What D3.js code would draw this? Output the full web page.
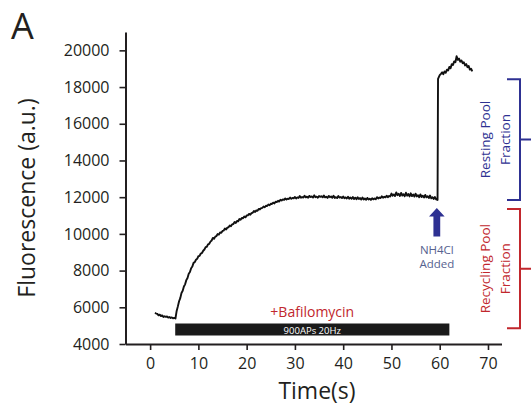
<!DOCTYPE html>
<html>
<head>
<meta charset="utf-8">
<script src="https://cdn.jsdelivr.net/npm/d3@7"></script>
<style>
  html, body { margin: 0; padding: 0; background: #fff; }
  svg { display: block; font-family: "Open Sans", sans-serif; }
</style>
</head>
<body>
<svg id="chart" width="531" height="414"></svg>
<script>
// Fluorescence trace as [time (s), fluorescence (a.u.)], split by phase
const baseline = [
  [1.0, 5700], [1.25, 5660], [1.5, 5640], [1.75, 5560], [2.0, 5600], [2.25, 5520],
  [2.5, 5560], [2.75, 5470], [3.0, 5510], [3.25, 5480], [3.5, 5500], [3.75, 5440],
  [4.0, 5470], [4.25, 5420], [4.5, 5450], [4.75, 5400], [5.0, 5420], [5.25, 5390]
];
const rise = [
  [5.5, 5800], [5.75, 6050], [6.0, 6330], [6.25, 6500], [6.5, 6780], [6.75, 6900],
  [7.0, 7130], [7.25, 7250], [7.5, 7480], [7.75, 7600], [8.0, 7830], [8.25, 7920],
  [8.5, 8130], [8.75, 8220], [9.0, 8420], [9.25, 8460], [9.5, 8590], [9.75, 8640],
  [10.0, 8780], [10.25, 8800], [10.5, 8930], [10.75, 8960], [11.0, 9080], [11.25, 9150],
  [11.5, 9280], [11.75, 9300], [12.0, 9430], [12.25, 9460], [12.5, 9580], [12.75, 9640],
  [13.0, 9780], [13.25, 9740], [13.5, 9850], [13.75, 9880], [14.0, 9990], [14.25, 9960],
  [14.5, 10080], [14.75, 10060], [15.0, 10160], [15.25, 10180], [15.5, 10290], [15.75, 10240],
  [16.0, 10340], [16.25, 10360], [16.5, 10460], [16.75, 10420], [17.0, 10520], [17.25, 10540],
  [17.5, 10650], [17.75, 10600], [18.0, 10700], [18.25, 10690], [18.5, 10810], [18.75, 10770],
  [19.0, 10870], [19.25, 10850], [19.5, 10950], [19.75, 10900], [20.0, 11000], [20.25, 11010],
  [20.5, 11090], [20.75, 11040], [21.0, 11130], [21.25, 11150], [21.5, 11240], [21.75, 11190],
  [22.0, 11280], [22.25, 11260], [22.5, 11360], [22.75, 11330], [23.0, 11400], [23.25, 11420],
  [23.5, 11490], [23.75, 11450], [24.0, 11530], [24.25, 11520], [24.5, 11600], [24.75, 11560],
  [25.0, 11640], [25.25, 11630], [25.5, 11700], [25.75, 11660], [26.0, 11750], [26.25, 11740],
  [26.5, 11800], [26.75, 11760], [27.0, 11860], [27.25, 11820], [27.5, 11880], [27.75, 11850]
];
const plateau = [
  [28.0, 11930], [28.25, 11870], [28.5, 11920], [28.75, 11900], [29.0, 11980], [29.25, 11910],
  [29.5, 11960], [29.75, 11940], [30.0, 12010], [30.25, 11930], [30.5, 11990], [30.75, 11960],
  [31.0, 12060], [31.25, 11970], [31.5, 12010], [31.75, 11980], [32.0, 12080], [32.25, 11990],
  [32.5, 12030], [32.75, 11970], [33.0, 12070], [33.25, 12010], [33.5, 12040], [33.75, 11980],
  [34.0, 12100], [34.25, 12000], [34.5, 12030], [34.75, 11970], [35.0, 12060], [35.25, 12020],
  [35.5, 12050], [35.75, 11990], [36.0, 12090], [36.25, 11990], [36.5, 12020], [36.75, 11960],
  [37.0, 12070], [37.25, 12000], [37.5, 12040], [37.75, 11970], [38.0, 12080], [38.25, 11960],
  [38.5, 12000], [38.75, 11950], [39.0, 12060], [39.25, 11980], [39.5, 12010], [39.75, 11950],
  [40.0, 12040], [40.25, 11940], [40.5, 11990], [40.75, 11930], [41.0, 12020], [41.25, 11920],
  [41.5, 11980], [41.75, 11910], [42.0, 12010], [42.25, 11900], [42.5, 11970], [42.75, 11890],
  [43.0, 11990], [43.25, 11900], [43.5, 11950], [43.75, 11870], [44.0, 11980], [44.25, 11880],
  [44.5, 11930], [44.75, 11860], [45.0, 11960], [45.25, 11870], [45.5, 11920], [45.75, 11850],
  [46.0, 11940], [46.25, 11880], [46.5, 11930], [46.75, 11890], [47.0, 12000], [47.25, 11930],
  [47.5, 11980], [47.75, 11950], [48.0, 12050], [48.25, 11970], [48.5, 12020], [48.75, 11990],
  [49.0, 12080], [49.25, 12000], [49.5, 12060], [49.75, 12040], [50.0, 12200], [50.25, 12080],
  [50.5, 12150], [50.75, 12060], [51.0, 12260], [51.25, 12110], [51.5, 12180], [51.75, 12070],
  [52.0, 12230], [52.25, 12090], [52.5, 12160], [52.75, 12050], [53.0, 12240], [53.25, 12080],
  [53.5, 12170], [53.75, 12040], [54.0, 12210], [54.25, 12060], [54.5, 12140], [54.75, 12030],
  [55.0, 12190], [55.25, 12040], [55.5, 12110], [55.75, 12000], [56.0, 12150], [56.25, 12010],
  [56.5, 12080], [56.75, 11980], [57.0, 12120], [57.25, 11990], [57.5, 12050], [57.75, 11950],
  [58.0, 12090], [58.25, 11940], [58.5, 12000], [58.75, 11900], [59.0, 12010], [59.25, 11880],
  [59.55, 11850]
];
const afterNH4Cl = [
  [59.65, 18450], [60.0, 18650], [60.25, 18720], [60.5, 18800], [60.75, 18700], [61.0, 18850],
  [61.25, 18780], [61.5, 18950], [61.75, 18900], [62.0, 19100], [62.25, 19020], [62.5, 19250],
  [62.75, 19200], [63.0, 19400], [63.25, 19350], [63.5, 19680], [63.75, 19480], [64.0, 19550],
  [64.25, 19380], [64.5, 19450], [64.75, 19300], [65.0, 19350], [65.25, 19180], [65.5, 19250],
  [65.75, 19080], [66.0, 19150], [66.25, 18950], [66.5, 19000], [66.75, 18850]
];

const xTicks = [0, 10, 20, 30, 40, 50, 60, 70];
const yTicks = [4000, 6000, 8000, 10000, 12000, 14000, 16000, 18000, 20000];

// Stimulation period and drug addition (s)
const stimulus = { start: 5.2, end: 62, label: "900APs 20Hz" };
const drugLabel = "+Bafilomycin";
const nh4clTime = 59.4;
const nh4clLabel = ["NH4Cl", "Added"];

// Pool fractions (fluorescence a.u.)
const restingPool = { low: 11850, high: 18430, label: ["Resting Pool", "Fraction"] };
const recyclingPool = { low: 4860, high: 11350, label: ["Recycling Pool", "Fraction"] };

const ink = "#231f20";
const blue = "#2e3192";
const red = "#c1272d";

const svg = d3.select("#chart");

const x = d3.scaleLinear().domain([-5.1, 72.8]).range([125.5, 501.5]);
const y = d3.scaleLinear().domain([4000, 21000]).range([344, 32]);

// Axes
const xAxis = svg.append("g")
  .attr("transform", `translate(0,${y(4000)})`)
  .call(d3.axisBottom(x).tickValues(xTicks).tickFormat(d3.format("d"))
    .tickSize(6).tickPadding(8).tickSizeOuter(0));
const yAxis = svg.append("g")
  .attr("transform", `translate(${x(-5.1)},0)`)
  .call(d3.axisLeft(y).tickValues(yTicks).tickFormat(d3.format("d"))
    .tickSize(6).tickPadding(10).tickSizeOuter(0));

[xAxis, yAxis].forEach(g => {
  g.selectAll("path.domain").attr("stroke", ink).attr("stroke-width", 2);
  g.selectAll(".tick line").attr("stroke", ink).attr("stroke-width", 1.6);
  g.selectAll(".tick text")
    .attr("fill", ink)
    .style("font-family", "'Open Sans', sans-serif")
    .style("font-size", "16px");
});

// Axis titles
svg.append("text")
  .attr("x", 317).attr("y", 399)
  .attr("text-anchor", "middle")
  .attr("fill", ink)
  .style("font-size", "23px")
  .text("Time(s)");

svg.append("text")
  .attr("transform", "translate(35,198) rotate(-90)")
  .attr("text-anchor", "middle")
  .attr("fill", ink)
  .style("font-size", "23px")
  .text("Fluorescence (a.u.)");

// Panel letter
svg.append("text")
  .attr("x", 11).attr("y", 39)
  .attr("fill", ink)
  .style("font-size", "36px")
  .text("A");

// Stimulus bar
svg.append("rect")
  .attr("x", x(stimulus.start))
  .attr("y", 323.5)
  .attr("width", x(stimulus.end) - x(stimulus.start))
  .attr("height", 12)
  .attr("fill", "#1a1a1a");

svg.append("text")
  .attr("x", (x(stimulus.start) + x(stimulus.end)) / 2)
  .attr("y", 333.5)
  .attr("text-anchor", "middle")
  .attr("fill", "#ffffff")
  .style("font-size", "9.5px")
  .text(stimulus.label);

svg.append("text")
  .attr("x", (x(stimulus.start) + x(stimulus.end)) / 2)
  .attr("y", 316.5)
  .attr("text-anchor", "middle")
  .attr("fill", red)
  .style("font-size", "14px")
  .text(drugLabel);

// Trace
const trace = [].concat(baseline, rise, plateau, afterNH4Cl);
svg.append("path")
  .datum(trace)
  .attr("fill", "none")
  .attr("stroke", "#111")
  .attr("stroke-width", 1.9)
  .attr("stroke-linejoin", "round")
  .attr("d", d3.line().x(d => x(d[0])).y(d => y(d[1])));

// NH4Cl arrow
const ax = x(nh4clTime);
svg.append("path")
  .attr("d", `M${ax - 3.4},236.5 L${ax - 3.4},216.5 L${ax - 7.8},216.5 L${ax},208 L${ax + 7.8},216.5 L${ax + 3.4},216.5 L${ax + 3.4},236.5 Z`)
  .attr("fill", blue);

svg.append("text")
  .attr("text-anchor", "middle")
  .attr("fill", "#56628f")
  .style("font-size", "11.5px")
  .selectAll("tspan")
  .data(nh4clLabel)
  .join("tspan")
  .attr("x", ax)
  .attr("y", (d, i) => 253.5 + i * 14.5)
  .text(d => d);

// Pool brackets
function bracket(pool, color) {
  const bx = 520;
  const top = y(pool.high), bot = y(pool.low), mid = (top + bot) / 2;
  svg.append("path")
    .attr("d", `M507,${top} H${bx} V${bot} H507 M${bx},${mid} H531`)
    .attr("fill", "none")
    .attr("stroke", color)
    .attr("stroke-width", 2);
  svg.append("text")
    .attr("transform", `translate(0,${mid}) rotate(-90)`)
    .attr("text-anchor", "middle")
    .attr("fill", color)
    .style("font-size", "13.5px")
    .selectAll("tspan")
    .data(pool.label)
    .join("tspan")
    .attr("x", 0)
    .attr("y", (d, i) => 490 + i * 19.5)
    .text(d => d);
}
bracket(restingPool, blue);
bracket(recyclingPool, red);
</script>
</body>
</html>
